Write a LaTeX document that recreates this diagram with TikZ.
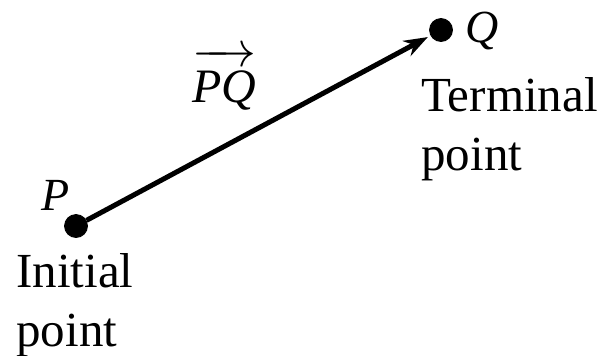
\documentclass[tikz,border=0pt]{standalone}
\usepackage{fontspec}
\setmainfont{Liberation Serif}
\usetikzlibrary{arrows.meta, positioning}

\begin{document}
\begin{tikzpicture}[
    x=0.5pt, y=0.5pt,
    >=Stealth,
    pt/.style={draw, circle, fill=black, minimum size=11.5pt, inner sep=0pt},
    ptlabel/.style={inner sep=0pt, font=\fontsize{23}{27}\selectfont, anchor=base},
    txt/.style={inner sep=0pt, align=left, anchor=north west,
                font=\fontsize{24.5}{29.5}\selectfont},
    vec/.style={draw, ->, line width=2.5pt, >={Stealth[length=12pt, width=8.5pt]}}
  ]
  \useasboundingbox (0,0) rectangle (604,355);

  \node[pt] (P) at (76,129) {};
  \node[pt] (Q) at (441,325) {};

  \draw[vec, shorten >=1.5pt] (P) -- (Q);

  \node[ptlabel] (Plbl) at (56,145) {\textit{P}};
  \node[ptlabel] (Qlbl) at (482,313) {\textit{Q}};
  \node[ptlabel, font=\fontsize{24}{28}\selectfont] (PQlbl) at (224,253)
    {$\overrightarrow{\rule{0pt}{19pt}\textit{PQ}}$};

  \node[txt] (init) at (16,102) {Initial\\point};
  \node[txt] (term) at (421,278) {Terminal\\point};
\end{tikzpicture}
\end{document}
